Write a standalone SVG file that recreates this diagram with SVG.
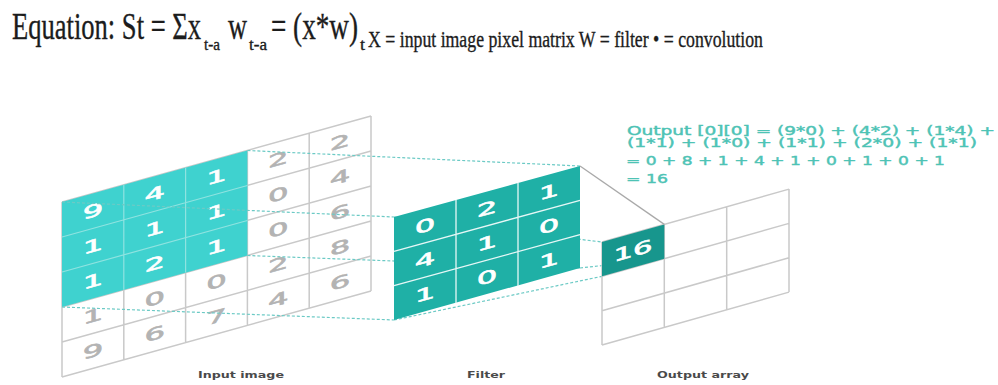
<svg xmlns="http://www.w3.org/2000/svg" width="998" height="385" viewBox="0 0 998 385">
<defs>
<style>
.ttl{font-family:"Liberation Serif","Times New Roman",serif;fill:#1c1c1c;stroke:#1c1c1c;stroke-width:0.35}
.grid{fill:none;stroke:#c9c9c9;stroke-width:1.5}
.tin{fill:none;stroke:#8fe3e0;stroke-width:1.2}
.fin{fill:none;stroke:#e6f7f6;stroke-width:1.3}
.dg{font-family:"DejaVu Sans",sans-serif;font-size:17px;text-anchor:middle;stroke-width:0.6}
.w{fill:#ffffff;stroke:#ffffff}
.g{fill:#b3b3b3;stroke:#b3b3b3}
.dash{fill:none;stroke:#6ccac5;stroke-width:1.2;stroke-dasharray:3 2}
.solid{fill:none;stroke:#a9a9a9;stroke-width:1.3}
.frm{font-family:"DejaVu Sans",sans-serif;font-size:11.5px;fill:#4ec3b5;stroke:#4ec3b5;stroke-width:0.4}
.lbl{font-family:"DejaVu Sans",sans-serif;font-weight:bold;font-size:9.5px;fill:#4a4a4a;text-anchor:middle}
</style>
</defs>
<rect width="998" height="385" fill="#ffffff"/>

<g id="title" class="ttl">
<text x="12" y="39" font-size="37" textLength="189" lengthAdjust="spacingAndGlyphs">Equation: St = Σx</text>
<text x="204" y="50" font-size="16" textLength="16" lengthAdjust="spacingAndGlyphs">t-a</text>
<text x="228" y="39" font-size="37" textLength="19" lengthAdjust="spacingAndGlyphs">w</text>
<text x="249" y="50" font-size="16" textLength="18" lengthAdjust="spacingAndGlyphs">t-a</text>
<text x="271" y="39" font-size="37" textLength="87" lengthAdjust="spacingAndGlyphs">= (x*w)</text>
<text x="360" y="50" font-size="16" textLength="5" lengthAdjust="spacingAndGlyphs">t</text>
<text x="368" y="47" font-size="23" textLength="395" lengthAdjust="spacingAndGlyphs">X = input image pixel matrix W = filter • = convolution</text>
</g>

<g id="input-image">
<path class="grid" d="M62,202V377M123.8,184.8V359.8M185.6,167.6V342.6M247.4,150.5V325.5M309.2,133.3V308.3M371,116V291
M62,202L371,116M62,237L371,151M62,272L371,186M62,307L371,221M62,342L371,256M62,377L371,291"/>
<polygon points="62,202 247.4,150.5 247.4,255.5 62,307" fill="#3fd2cf"/>
<path class="tin" d="M123.8,184.8V289.8M185.6,167.6V272.6M62,237L247.4,185.5M62,272L247.4,220.5"/>
<g transform="translate(92.9,210.9) skewY(-15.54) scale(1.9,1)"><text class="dg w" y="6">9</text></g>
<g transform="translate(154.7,193.7) skewY(-15.54) scale(1.9,1)"><text class="dg w" y="6">4</text></g>
<g transform="translate(216.5,176.6) skewY(-15.54) scale(1.9,1)"><text class="dg w" y="6">1</text></g>
<g transform="translate(278.3,159.4) skewY(-15.54) scale(1.9,1)"><text class="dg g" y="6">2</text></g>
<g transform="translate(340.1,142.2) skewY(-15.54) scale(1.9,1)"><text class="dg g" y="6">2</text></g>
<g transform="translate(92.9,245.9) skewY(-15.54) scale(1.9,1)"><text class="dg w" y="6">1</text></g>
<g transform="translate(154.7,228.7) skewY(-15.54) scale(1.9,1)"><text class="dg w" y="6">1</text></g>
<g transform="translate(216.5,211.6) skewY(-15.54) scale(1.9,1)"><text class="dg w" y="6">1</text></g>
<g transform="translate(278.3,194.4) skewY(-15.54) scale(1.9,1)"><text class="dg g" y="6">0</text></g>
<g transform="translate(340.1,177.2) skewY(-15.54) scale(1.9,1)"><text class="dg g" y="6">4</text></g>
<g transform="translate(92.9,280.9) skewY(-15.54) scale(1.9,1)"><text class="dg w" y="6">1</text></g>
<g transform="translate(154.7,263.7) skewY(-15.54) scale(1.9,1)"><text class="dg w" y="6">2</text></g>
<g transform="translate(216.5,246.6) skewY(-15.54) scale(1.9,1)"><text class="dg w" y="6">1</text></g>
<g transform="translate(278.3,229.4) skewY(-15.54) scale(1.9,1)"><text class="dg g" y="6">0</text></g>
<g transform="translate(340.1,212.2) skewY(-15.54) scale(1.9,1)"><text class="dg g" y="6">6</text></g>
<g transform="translate(92.9,315.9) skewY(-15.54) scale(1.9,1)"><text class="dg g" y="6">1</text></g>
<g transform="translate(154.7,298.7) skewY(-15.54) scale(1.9,1)"><text class="dg g" y="6">0</text></g>
<g transform="translate(216.5,281.6) skewY(-15.54) scale(1.9,1)"><text class="dg g" y="6">0</text></g>
<g transform="translate(278.3,264.4) skewY(-15.54) scale(1.9,1)"><text class="dg g" y="6">2</text></g>
<g transform="translate(340.1,247.2) skewY(-15.54) scale(1.9,1)"><text class="dg g" y="6">8</text></g>
<g transform="translate(92.9,350.9) skewY(-15.54) scale(1.9,1)"><text class="dg g" y="6">9</text></g>
<g transform="translate(154.7,333.7) skewY(-15.54) scale(1.9,1)"><text class="dg g" y="6">6</text></g>
<g transform="translate(216.5,316.6) skewY(-15.54) scale(1.9,1)"><text class="dg g" y="6">7</text></g>
<g transform="translate(278.3,299.4) skewY(-15.54) scale(1.9,1)"><text class="dg g" y="6">4</text></g>
<g transform="translate(340.1,282.2) skewY(-15.54) scale(1.9,1)"><text class="dg g" y="6">6</text></g>
</g>

<g id="connectors">
<path class="dash" d="M62,202L394,217M247.4,150.5L580,166M247.4,255.5L580,268M62,307L394,320M394,217L602,242M394,320L602,276.3M580,268L664.3,258.7"/>
</g>

<g id="filter">
<polygon points="394,217 580,166 580,268 394,320" fill="#1fb0a6"/>
<path class="fin" d="M456,200V303M518,183V286M394,251.3L580,200.3M394,285.7L580,234.7"/>
<g transform="translate(425,225.7) skewY(-15.32) scale(1.9,1)"><text class="dg w" y="6">0</text></g>
<g transform="translate(487,208.7) skewY(-15.32) scale(1.9,1)"><text class="dg w" y="6">2</text></g>
<g transform="translate(549,191.7) skewY(-15.32) scale(1.9,1)"><text class="dg w" y="6">1</text></g>
<g transform="translate(425,260) skewY(-15.32) scale(1.9,1)"><text class="dg w" y="6">4</text></g>
<g transform="translate(487,243) skewY(-15.32) scale(1.9,1)"><text class="dg w" y="6">1</text></g>
<g transform="translate(549,226) skewY(-15.32) scale(1.9,1)"><text class="dg w" y="6">0</text></g>
<g transform="translate(425,294.3) skewY(-15.32) scale(1.9,1)"><text class="dg w" y="6">1</text></g>
<g transform="translate(487,277.3) skewY(-15.32) scale(1.9,1)"><text class="dg w" y="6">0</text></g>
<g transform="translate(549,260.3) skewY(-15.32) scale(1.9,1)"><text class="dg w" y="6">1</text></g>
</g>

<g id="output-array">
<path class="grid" d="M602,242V345M664.3,224.4V327.4M726.7,206.7V309.7M789,189.1V292.1M602,242L789,189.1M602,276.3L789,223.4M602,310.7L789,257.8M602,345L789,292.1"/>
<polygon points="602,242 664.3,224.4 664.3,258.7 602,276.3" fill="#17968d"/>
<g transform="translate(633,250.4) skewY(-15.8) scale(1.8,1)"><text class="dg w" y="6" font-size="17">16</text></g>
</g>

<g id="connector-solid">
<path class="solid" d="M580,166L664.3,224.4"/>
</g>

<g id="formula" class="frm">
<text x="627" y="135" textLength="368" lengthAdjust="spacingAndGlyphs">Output [0][0] = (9*0) + (4*2) + (1*4) +</text>
<text x="627" y="147" textLength="350" lengthAdjust="spacingAndGlyphs">(1*1) + (1*0) + (1*1) + (2*0) + (1*1)</text>
<text x="626" y="165" textLength="319" lengthAdjust="spacingAndGlyphs">= 0 + 8 + 1 + 4 + 1 + 0 + 1 + 0 + 1</text>
<text x="626" y="183" textLength="42" lengthAdjust="spacingAndGlyphs">= 16</text>
</g>

<g id="labels">
<text class="lbl" x="241" y="378" textLength="86" lengthAdjust="spacingAndGlyphs">Input image</text>
<text class="lbl" x="486" y="378" textLength="38" lengthAdjust="spacingAndGlyphs">Filter</text>
<text class="lbl" x="703" y="378" textLength="92" lengthAdjust="spacingAndGlyphs">Output array</text>
</g>
</svg>
